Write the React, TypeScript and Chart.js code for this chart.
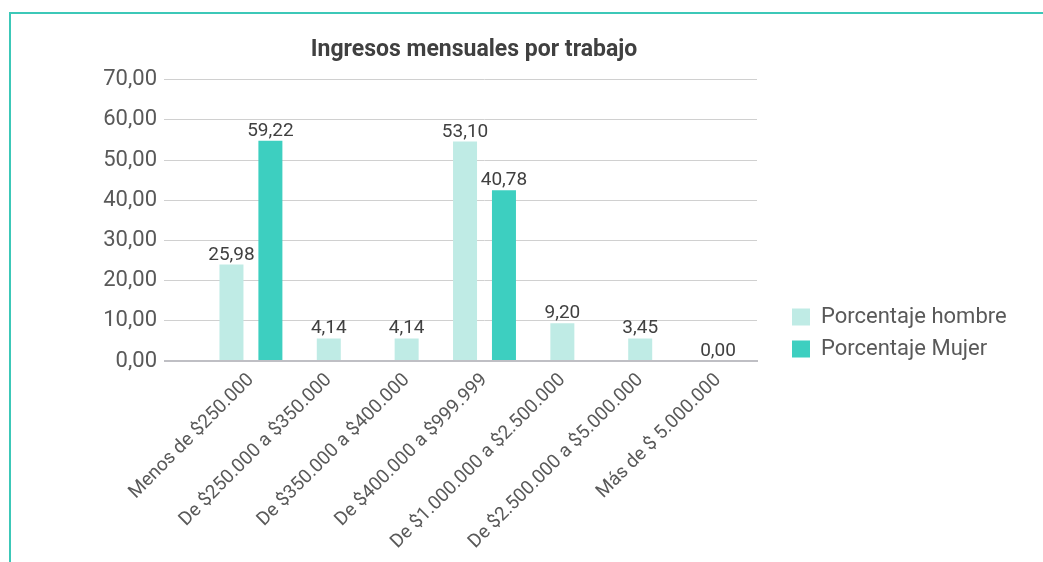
import React, { useEffect, useRef } from 'react';
import { Chart, registerables } from 'chart.js';

Chart.register(...registerables);

const chartTitle = 'Ingresos mensuales por trabajo';
const categories = [
  'Menos de $250.000',
  'De $250.000 a $350.000',
  'De $350.000 a $400.000',
  'De $400.000 a $999.999',
  'De $1.000.000 a $2.500.000',
  'De $2.500.000 a $5.000.000',
  'Más de $ 5.000.000',
];
const seriesNames = ['Porcentaje hombre', 'Porcentaje Mujer'];
// bar heights as drawn in the picture
const hombreValues = [24.0, 5.6, 5.6, 54.6, 9.4, 5.6, 0];
const mujerValues = [54.8, null, null, 42.5, null, null, null];
// value labels as printed in the picture
const hombreLabels = ['25,98', '4,14', '4,14', '53,10', '9,20', '3,45', '0,00'];
const mujerLabels = ['59,22', null, null, '40,78', null, null, null];
const yTickLabels = ['0,00', '10,00', '20,00', '30,00', '40,00', '50,00', '60,00', '70,00'];

const FONT = 'Roboto';
const WEIGHT = '400';
const HOMBRE_COLOR = '#bfebe5';
const MUJER_COLOR = '#3dcfc0';

const valueLabelPlugin = {
  id: 'valueLabels',
  afterDatasetsDraw(chart: any) {
    const ctx = chart.ctx;
    const labelSets = [hombreLabels, mujerLabels];
    ctx.save();
    ctx.font = `${WEIGHT} 19px ${FONT}`;
    ctx.fillStyle = '#404040';
    ctx.textAlign = 'center';
    ctx.textBaseline = 'alphabetic';
    chart.data.datasets.forEach((_ds: any, di: number) => {
      const meta = chart.getDatasetMeta(di);
      meta.data.forEach((el: any, i: number) => {
        const lab = labelSets[di][i];
        if (lab == null) return;
        ctx.fillText(lab, el.x, el.y - 5);
      });
    });
    ctx.restore();
  },
};

const legendShiftPlugin = {
  id: 'legendShift',
  afterLayout(chart: any) {
    const l = chart.legend;
    if (!l) return;
    const dx = 25;
    const dy = 9;
    l.left += dx;
    l.right = chart.width;
    l.top += dy;
    l.bottom += dy;
  },
};

export default function App() {
  const ref = useRef<HTMLCanvasElement | null>(null);

  useEffect(() => {
    if (!ref.current) return;
    const chart = new Chart(ref.current, {
      type: 'bar',
      data: {
        labels: categories,
        datasets: [
          {
            label: seriesNames[0],
            data: hombreValues,
            backgroundColor: HOMBRE_COLOR,
            borderWidth: 0,
          },
          {
            label: seriesNames[1],
            data: mujerValues as any,
            backgroundColor: MUJER_COLOR,
            borderWidth: 0,
          },
        ],
      },
      options: {
        responsive: false,
        animation: false,
        devicePixelRatio: 1,
        events: [],
        layout: { padding: { left: 0, right: 95, top: 0, bottom: 0 } },
        datasets: {
          bar: {
            categoryPercentage: 1.0,
            barPercentage: 0.7,
            maxBarThickness: 24,
            skipNull: true,
          },
        },
        scales: {
          x: {
            grid: { display: false, drawTicks: false },
            border: { display: true, color: '#bfbfc4', width: 2 },
            ticks: {
              autoSkip: false,
              minRotation: 45,
              maxRotation: 45,
              padding: 8,
              color: '#595959',
              font: { family: FONT, size: 19, weight: WEIGHT as any },
            },
            afterFit: (scale: any) => {
              scale.height = 201;
            },
          },
          y: {
            min: 0,
            max: 70,
            grid: {
              color: (c: any) => (c.tick && c.tick.value === 0 ? '#bfbfc4' : '#d0d0d0'),
              lineWidth: (c: any) => (c.tick && c.tick.value === 0 ? 2 : 1),
              drawTicks: true,
              tickLength: 48,
            },
            border: { display: false },
            ticks: {
              stepSize: 10,
              padding: 7,
              color: '#595959',
              font: { family: FONT, size: 22, weight: WEIGHT as any },
              callback: (_v: any, i: number) => yTickLabels[i],
            },
            afterFit: (scale: any) => {
              scale.width = 212;
            },
          },
        },
        plugins: {
          title: {
            display: true,
            text: chartTitle,
            color: '#404040',
            font: { family: FONT, size: 23, weight: 'bold' },
            padding: { top: 36, bottom: 16 },
          },
          legend: {
            display: true,
            position: 'right',
            align: 'end',
            fullSize: false,
            maxWidth: 191,
            labels: {
              boxWidth: 18,
              boxHeight: 17,
              padding: 10,
              color: '#595959',
              font: { family: FONT, size: 22, weight: WEIGHT as any },
            },
          },
          tooltip: { enabled: false },
        },
      },
      plugins: [valueLabelPlugin, legendShiftPlugin],
    });
    return () => chart.destroy();
  }, []);

  return (
    <div style={{ position: 'fixed', left: 0, top: 0, width: 1043, height: 562, overflow: 'hidden', background: '#fff' }}>
      <div
        style={{
          position: 'absolute',
          left: 9,
          top: 12,
          width: 1034,
          height: 550,
          borderTop: '2px solid #3cc8b8',
          borderLeft: '2px solid #3cc8b8',
          boxSizing: 'border-box',
        }}
      />
      <canvas ref={ref} width={1043} height={562} style={{ position: 'absolute', left: 0, top: 0 }} />
    </div>
  );
}
